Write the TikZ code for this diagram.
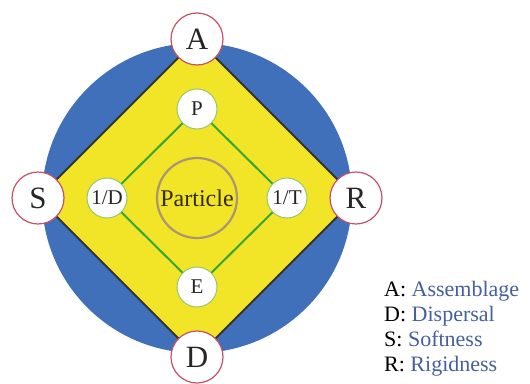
\documentclass[tikz,border=0pt]{standalone}
\usepackage{fontspec}
\setmainfont{Liberation Serif}
\usetikzlibrary{positioning}
\usepackage{xcolor}
\definecolor{ringblue}{RGB}{64,112,186}
\definecolor{diamyellow}{RGB}{242,228,38}
\definecolor{outerred}{RGB}{200,80,100}
\definecolor{innergreen}{RGB}{150,200,110}
\definecolor{linkgreen}{RGB}{55,165,50}
\definecolor{partring}{RGB}{170,150,115}
\definecolor{parttext}{RGB}{50,45,15}
\definecolor{legblue}{RGB}{70,95,160}

\begin{document}
\begin{tikzpicture}[
    x=1pt, y=-1pt,
    % nodes on the outer diamond
    outer/.style={circle, draw=outerred, line width=1.2pt, fill=white,
        minimum size=52pt, inner sep=0pt, text=black!85,
        font=\fontsize{31}{31}\selectfont},
    % nodes on the inner diamond
    inner/.style={circle, draw=innergreen, line width=1pt, fill=white,
        minimum size=40pt, inner sep=0pt, text=black!85,
        font=\fontsize{21}{21}\selectfont},
    link/.style={draw=linkgreen, line width=2pt}
]
    \useasboundingbox (0,0) rectangle (530,383);

    % Blue disc
    \coordinate (O) at (197,198);
    \fill[ringblue] (O) circle (155);

    % Outer diamond corners
    \coordinate (pA) at (197,39);
    \coordinate (pR) at (356,198);
    \coordinate (pD) at (197,357);
    \coordinate (pS) at (38,198);
    \filldraw[fill=diamyellow, draw=black!80, line width=1.8pt]
        (pA) -- (pR) -- (pD) -- (pS) -- cycle;

    % Inner diamond
    \node[inner] (P) at (197,109) {P};
    \node[inner] (E) at (197,287) {E};
    \node[inner] (iD) at (107,198) {1/D};
    \node[inner] (iT) at (287,198) {1/T};
    \draw[link] (P) -- (iD);
    \draw[link] (P) -- (iT);
    \draw[link] (E) -- (iD);
    \draw[link] (E) -- (iT);

    % Particle
    \node[circle, draw=partring, line width=2.2pt, minimum size=80pt, inner sep=0pt,
        text=parttext, font=\fontsize{24}{24}\selectfont] (part) at (O) {Particle};

    % Outer nodes
    \foreach \k in {A,R,D,S} {
        \node[outer] (\k) at (p\k) {\k};
    }

    % Legend
    \foreach \k/\word [count=\i] in {A/Assemblage, D/Dispersal, S/Softness, R/Rigidness} {
        \node[anchor=base west, inner sep=0pt, font=\fontsize{22}{22}\selectfont]
            (leg\k) at (384,271+25*\i) {\k: \textcolor{legblue}{\word}};
    }
\end{tikzpicture}
\end{document}
